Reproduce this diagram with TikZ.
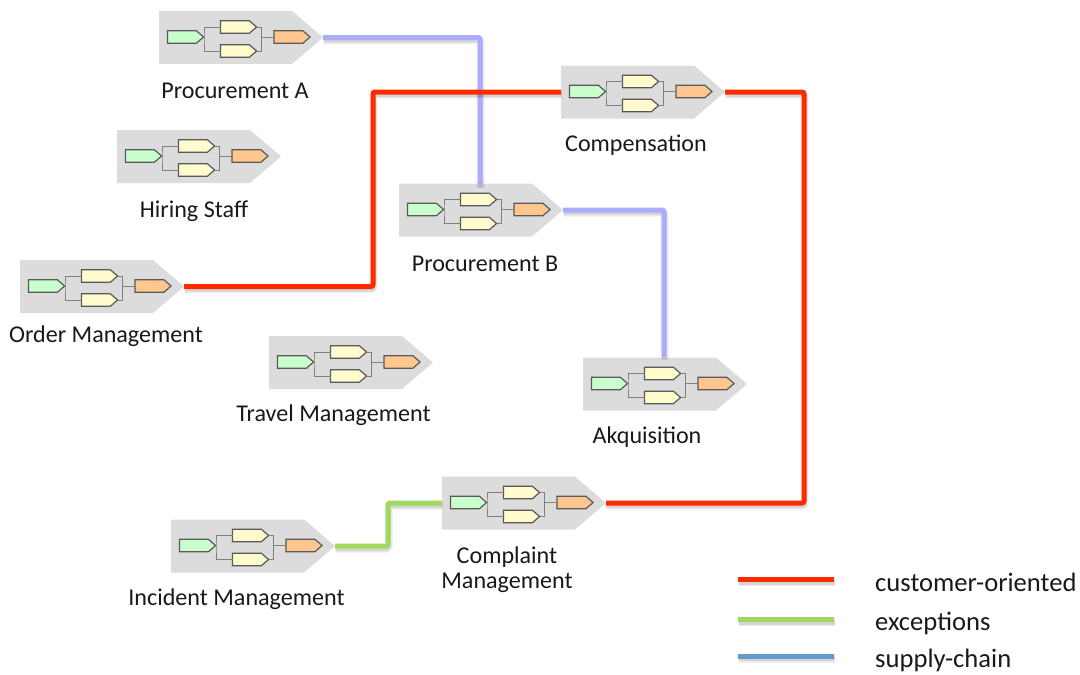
\documentclass[tikz,border=0pt]{standalone}
\usepackage{fontspec}
\setmainfont{Carlito}
\usetikzlibrary{shapes.symbols,calc}
\definecolor{greybox}{HTML}{DCDCDC}
\definecolor{redl}{HTML}{FF2A00}
\definecolor{greenl}{HTML}{A0D860}
\definecolor{lavl}{HTML}{A9ADFB}
\definecolor{bluel}{HTML}{6699CC}
\definecolor{startc}{HTML}{C9FFCC}
\definecolor{midc}{HTML}{FFFBCC}
\definecolor{endc}{HTML}{FFC78F}
\tikzset{
  x=1pt,y=-1pt,
  procbox/.style={shape=signal,signal to=east,signal from=nothing,signal pointer angle=81,
    fill=greybox,draw=none,inner sep=0pt,outer sep=0pt,minimum width=164pt,minimum height=53pt,anchor=west},
  task/.style={shape=signal,signal to=east,signal from=nothing,signal pointer angle=82,
    draw=black!65,line width=1.2pt,inner sep=0pt,outer sep=0pt,minimum width=36pt,minimum height=12.4pt},
  wire/.style={draw=black!50,line width=1pt},
  flow/.style={line width=5pt,rounded corners=2pt,
    preaction={draw=black,draw opacity=.07,line width=8pt,transform canvas={yshift=-2.5pt,xshift=.5pt}},
    preaction={draw=black,draw opacity=.10,line width=5pt,transform canvas={yshift=-2.5pt,xshift=.5pt}}},
  lbl/.style={font=\fontsize{24.1pt}{25pt}\selectfont,align=center,text=black!90,inner sep=0pt},
  leg/.style={font=\fontsize{26.6pt}{30pt}\selectfont,text=black!90,inner sep=0pt,anchor=base west},
}
\newcommand{\proc}[3]{% name, left x, centre y
  \node[procbox] (#1) at (#2,#3) {};
  \node[task,fill=startc] (#1g) at ($(#1.west)+(23,-.5)$) {};
  \node[task,fill=midc] (#1a) at ($(#1.west)+(76,-10.5)$) {};
  \node[task,fill=midc] (#1b) at ($(#1.west)+(76,13.5)$) {};
  \node[task,fill=endc] (#1o) at ($(#1.west)+(129.5,-.5)$) {};
  \coordinate (#1l) at ($(#1.west)+(45,-.5)$);
  \coordinate (#1r) at ($(#1.west)+(102.5,-.5)$);
  \draw[wire] (#1g.east) -- (#1l);
  \draw[wire] (#1a.west) -| (#1l) |- (#1b.west);
  \draw[wire] (#1a.east) -| (#1r) |- (#1b.east);
  \draw[wire] (#1r) -- (#1o.west);
}
\begin{document}
\begin{tikzpicture}
\useasboundingbox (0,0) rectangle (1080,675);
\proc{pa}{159}{37.5}
\proc{hs}{117}{156.5}
\proc{comp}{561}{92}
\proc{pb}{399}{210}
\proc{om}{20}{286.5}
\proc{tm}{269}{362.5}
\proc{aq}{583}{384}
\proc{cm}{442}{503}
\proc{im}{171}{546}
\node[lbl] (tpa) at (235,91) {Procurement A};
\node[lbl] (ths) at (194,211) {Hiring Staff};
\node[lbl] (tcomp) at (636,145) {Compensation};
\node[lbl] (tpb) at (485,264) {Procurement B};
\node[lbl] (tom) at (106,336) {Order Management};
\node[lbl] (ttm) at (333.5,415) {Travel Management};
\node[lbl] (taq) at (647,437) {Akquisition};
\node[lbl] (tcm) at (507,569.5) {Complaint\\Management};
\node[lbl] (tim) at (236.5,599) {Incident Management};
\draw[flow,draw=lavl] (pa.east) -| (480,185);
\draw[flow,draw=lavl] (pb.east) -| (664,357);
\draw[flow,draw=redl] (om.east) -| (373,190) |- (comp.west);
\draw[flow,draw=redl] (comp.east) -| (804,300) |- (cm.east);
\draw[flow,draw=greenl] (im.east) -| (388,525) |- (cm.west);
\coordinate (la) at (738,579.5);\coordinate (lb) at (834,579.5);
\coordinate (lc) at (738,619.5);\coordinate (ld) at (834,619.5);
\coordinate (le) at (738,656);\coordinate (lf) at (834,656);
\draw[flow,draw=redl] (la) -- (lb);
\draw[flow,draw=greenl] (lc) -- (ld);
\draw[flow,draw=bluel] (le) -- (lf);
\node[leg] (t1) at (875,591) {customer-oriented};
\node[leg] (t2) at (875,630) {exceptions};
\node[leg] (t3) at (875,667) {supply-chain};
\end{tikzpicture}
\end{document}
